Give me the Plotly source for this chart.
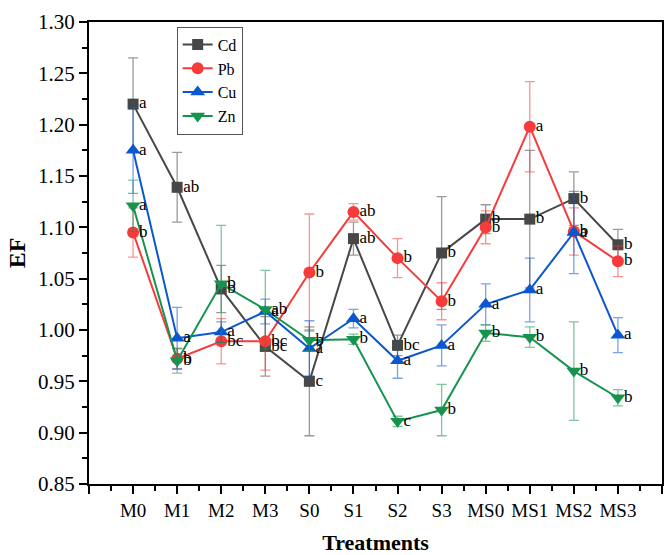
import plotly.graph_objects as go

categories = ["M0", "M1", "M2", "M3", "S0", "S1", "S2", "S3", "MS0", "MS1", "MS2", "MS3"]

cd = [1.220, 1.139, 1.040, 0.984, 0.950, 1.089, 0.985, 1.075, 1.108, 1.108, 1.128, 1.083]
cd_err = [0.045, 0.034, 0.023, 0.029, 0.053, 0.016, 0.010, 0.055, 0.014, 0.067, 0.026, 0.015]
cd_sig = ["a", "ab", "b", "bc", "c", "ab", "bc", "b", "b", "b", "b", "b"]

pb = [1.095, 0.972, 0.989, 0.989, 1.056, 1.115, 1.070, 1.028, 1.100, 1.198, 1.096, 1.067]
pb_err = [0.024, 0.010, 0.022, 0.028, 0.057, 0.008, 0.019, 0.018, 0.016, 0.044, 0.023, 0.015]
pb_sig = ["b", "b", "bc", "bc", "b", "ab", "b", "b", "b", "a", "b", "b"]

cu = [1.175, 0.992, 0.998, 1.018, 0.982, 1.011, 0.970, 0.985, 1.025, 1.039, 1.095, 0.995]
cu_err = [0.042, 0.030, 0.010, 0.012, 0.027, 0.009, 0.017, 0.020, 0.020, 0.031, 0.040, 0.017]
cu_sig = ["a", "a", "a", "a", "a", "a", "a", "a", "a", "a", "a", "a"]

zn = [1.121, 0.970, 1.045, 1.020, 0.990, 0.991, 0.911, 0.922, 0.997, 0.993, 0.960, 0.934]
zn_err = [0.025, 0.012, 0.057, 0.038, 0.010, 0.005, 0.005, 0.025, 0.008, 0.010, 0.048, 0.008]
zn_sig = ["a", "b", "b", "ab", "b", "b", "c", "b", "b", "b", "b", "b"]

y_ticks = [0.85, 0.90, 0.95, 1.00, 1.05, 1.10, 1.15, 1.20, 1.25, 1.30]

FONT = "Liberation Serif, Times New Roman, serif"
x = list(range(len(categories)))

series = [
    ("Cd", cd, cd_err, cd_sig, "#474747", "rgba(71,71,71,0.55)", "square", 11),
    ("Pb", pb, pb_err, pb_sig, "#F73B3B", "rgba(247,59,59,0.55)", "circle", 12),
    ("Cu", cu, cu_err, cu_sig, "#0B57CF", "rgba(11,87,207,0.55)", "triangle-up", 13),
    ("Zn", zn, zn_err, zn_sig, "#16934F", "rgba(22,147,79,0.55)", "triangle-down", 13),
]

fig = go.Figure()
for name, vals, errs, sig, col, ecol, sym, msize in series:
    fig.add_trace(go.Scatter(
        x=x, y=vals, name=name, mode="lines+markers",
        line=dict(color=col, width=2),
        marker=dict(symbol=sym, size=msize, color=col),
        error_y=dict(type="data", array=errs, visible=True, color=ecol,
                     thickness=1.3, width=5),
    ))
for name, vals, errs, sig, col, ecol, sym, msize in series:
    fig.add_trace(go.Scatter(
        x=x, y=vals, mode="markers+text", text=sig, showlegend=False,
        textposition="middle right", hoverinfo="skip",
        marker=dict(size=8, opacity=0),
        textfont=dict(family=FONT, size=17, color="black"),
    ))

fig.update_layout(
    width=665, height=555,
    margin=dict(l=89, r=1, t=22, b=68),
    paper_bgcolor="white", plot_bgcolor="white",
    font=dict(family=FONT, color="black", size=19),
    legend=dict(x=0.153, y=0.99, xanchor="left", yanchor="top",
                bordercolor="#555555", borderwidth=1, bgcolor="white",
                font=dict(family=FONT, size=16), itemwidth=30,
                tracegroupgap=0),
)
fig.update_xaxes(
    range=[-1, 12], tickmode="array",
    tickvals=[-1] + x + [12], ticktext=[""] + categories + [""],
    ticks="outside", ticklen=8, tickwidth=2, tickcolor="black",
    showline=True, linecolor="black", linewidth=2, mirror=True,
    showgrid=False, zeroline=False,
    minor=dict(dtick=0.5, tick0=-1, ticks="outside", ticklen=5, tickwidth=2, tickcolor="black", showgrid=False),
    tickfont=dict(family=FONT, size=19),
    title=dict(text="<b>Treatments</b>", font=dict(family=FONT, size=22), standoff=18),
)
fig.update_yaxes(
    range=[0.85, 1.30], tickmode="array", tickvals=y_ticks,
    ticktext=[f"{v:.2f}" for v in y_ticks],
    ticks="outside", ticklen=8, tickwidth=2, tickcolor="black",
    showline=True, linecolor="black", linewidth=2, mirror=True,
    showgrid=False, zeroline=False,
    minor=dict(dtick=0.025, tick0=0.85, ticks="outside", ticklen=5, tickwidth=2, tickcolor="black", showgrid=False),
    tickfont=dict(family=FONT, size=21),
    title=dict(text="<b>EF</b>", font=dict(family=FONT, size=24), standoff=6),
)

fig.write_html("out.html")
